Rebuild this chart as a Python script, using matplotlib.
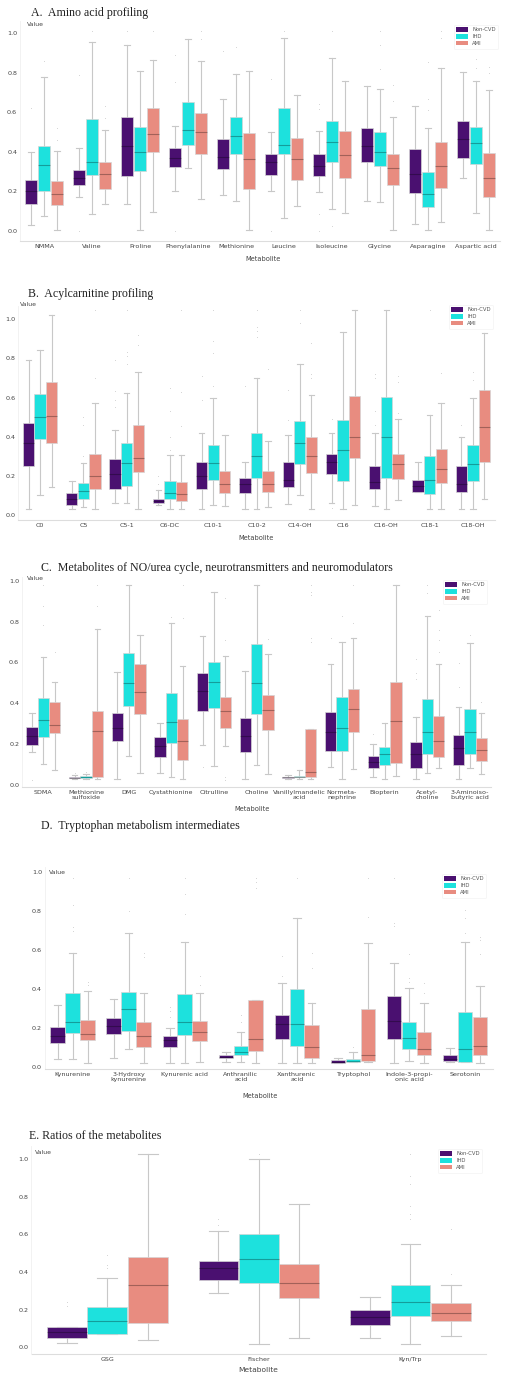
import numpy as np
import matplotlib.pyplot as plt
from matplotlib.patches import Patch

W, H = 506, 1374
groups = ["Non-CVD", "IHD", "AMI"]
colors = ["#4a1070", "#1de1dd", "#e88c80"]

# box stats: (whisker low, q1, median, q3, whisker high)
a_metabolites = ["NMMA", "Valine", "Proline", "Phenylalanine", "Methionine", "Leucine",
                 "Isoleucine", "Glycine", "Asparagine", "Aspartic acid"]
a_noncvd = [(0.03, 0.137, 0.20, 0.258, 0.40), (0.17, 0.233, 0.27, 0.31, 0.42),
            (0.137, 0.278, 0.43, 0.575, 0.94), (0.20, 0.325, 0.37, 0.418, 0.53),
            (0.18, 0.312, 0.373, 0.467, 0.668), (0.20, 0.283, 0.347, 0.39, 0.50),
            (0.195, 0.278, 0.33, 0.388, 0.506), (0.15, 0.351, 0.43, 0.523, 0.735),
            (0.034, 0.19, 0.29, 0.413, 0.63), (0.27, 0.368, 0.464, 0.556, 0.806)]
a_ihd = [(0.076, 0.20, 0.335, 0.43, 0.78), (0.084, 0.283, 0.347, 0.565, 0.958),
         (0.005, 0.305, 0.40, 0.528, 0.81), (0.32, 0.435, 0.51, 0.654, 0.97),
         (0.153, 0.388, 0.48, 0.575, 0.794), (0.064, 0.39, 0.435, 0.624, 0.975),
         (0.11, 0.347, 0.452, 0.558, 0.873), (0.145, 0.33, 0.40, 0.50, 0.72),
         (0.005, 0.12, 0.185, 0.297, 0.523), (0.09, 0.339, 0.443, 0.524, 0.759)]
a_ami = [(0.005, 0.133, 0.185, 0.253, 0.406), (0.137, 0.212, 0.29, 0.35, 0.51),
         (0.094, 0.40, 0.49, 0.62, 0.863), (0.162, 0.39, 0.50, 0.595, 0.86),
         (0.005, 0.21, 0.366, 0.494, 0.81), (0.126, 0.26, 0.366, 0.469, 0.688),
         (0.09, 0.27, 0.383, 0.506, 0.759), (0.005, 0.233, 0.32, 0.388, 0.575),
         (0.047, 0.216, 0.33, 0.452, 0.823), (0.005, 0.174, 0.27, 0.393, 0.713)]
a_noncvd_fl = [[0.62], [0.79, 0.0], [1.01], [0.755, 0.89, 0.0], [0.91], [0.767, 0.0],
               [0.615, 0.64, 0.088, 0.0], [], [], []]
a_ihd_fl = [[0.86], [1.01], [], [], [0.93], [1.01], [0.025, 1.01], [0.82, 0.94, 1.01],
            [0.612, 0.666, 0.857], [0.823, 0.868, 1.01]]
a_ami_fl = [[0.46, 0.52], [0.57, 0.63], [1.01], [0.97, 1.01], [], [], [], [0.655, 0.74],
            [0.975, 1.01], [0.80, 0.83]]

b_metabolites = ["C0", "C5", "C5-1", "C6-DC", "C10-1", "C10-2", "C14-OH", "C16",
                 "C16-OH", "C18-1", "C18-OH"]
b_noncvd = [(0.03, 0.25, 0.37, 0.468, 0.79), (0.03, 0.05, 0.08, 0.114, 0.175),
            (0.06, 0.131, 0.21, 0.286, 0.434), (0.05, 0.06, 0.07, 0.083, 0.128),
            (0.03, 0.135, 0.20, 0.273, 0.42), (0.03, 0.114, 0.16, 0.19, 0.27),
            (0.055, 0.145, 0.18, 0.273, 0.41), (0.06, 0.21, 0.27, 0.31, 0.42),
            (0.046, 0.135, 0.17, 0.25, 0.417), (0.116, 0.116, 0.15, 0.179, 0.27),
            (0.03, 0.12, 0.16, 0.25, 0.40)]
b_ihd = [(0.10, 0.39, 0.50, 0.62, 0.843), (0.043, 0.083, 0.124, 0.162, 0.267),
         (0.06, 0.148, 0.267, 0.37, 0.625), (0.032, 0.08, 0.11, 0.174, 0.306),
         (0.05, 0.179, 0.267, 0.358, 0.596), (0.03, 0.187, 0.30, 0.417, 0.70),
         (0.10, 0.26, 0.366, 0.48, 0.77), (0.03, 0.174, 0.33, 0.486, 0.937),
         (0.03, 0.19, 0.40, 0.605, 1.045), (0.03, 0.105, 0.18, 0.30, 0.51),
         (0.03, 0.174, 0.26, 0.36, 0.60)]
b_ami = [(0.145, 0.37, 0.506, 0.68, 1.02), (0.03, 0.133, 0.20, 0.31, 0.57),
         (0.03, 0.221, 0.293, 0.46, 0.733), (0.032, 0.071, 0.105, 0.17, 0.306),
         (0.046, 0.114, 0.16, 0.225, 0.41), (0.043, 0.12, 0.16, 0.225, 0.38),
         (0.03, 0.213, 0.30, 0.40, 0.613), (0.05, 0.293, 0.40, 0.608, 1.045),
         (0.077, 0.182, 0.26, 0.31, 0.49), (0.03, 0.162, 0.233, 0.335, 0.57),
         (0.08, 0.273, 0.45, 0.64, 0.93)]
b_noncvd_fl = [[], [], [0.55, 0.59, 0.635, 0.79], [0.16, 0.2], [0.59, 0.71], [0.66],
               [0.486, 0.64], [0.49, 0.034], [0.46, 0.53, 0.70, 0.72], [], [0.46]]
b_ihd_fl = [[], [0.30, 0.46, 0.50], [0.77, 0.81, 0.835, 1.045], [0.33, 0.40, 0.53, 0.65],
            [0.66, 0.83, 0.89, 1.045], [0.91, 0.94, 0.96, 1.045], [0.98, 1.045], [], [],
            [1.045], [0.69, 0.73]]
b_ami_fl = [[], [0.70, 1.045], [0.87, 0.92], [0.456, 0.627, 1.045], [], [0.745],
            [0.70, 0.72, 0.88], [], [0.52, 0.68, 0.71], [0.727], []]

c_metabolites = ["SDMA", "Methionine\nsulfoxide", "DMG", "Cystathionine", "Citrulline",
                 "Choline", "Vanillylmandelic\nacid", "Normeta-\nnephrine", "Biopterin",
                 "Acetyl-\ncholine", "3-Aminoiso-\nbutyric acid"]
c_noncvd = [(0.163, 0.196, 0.24, 0.285, 0.354), (0.03, 0.033, 0.036, 0.04, 0.05),
            (0.028, 0.215, 0.28, 0.354, 0.555), (0.06, 0.135, 0.19, 0.237, 0.302),
            (0.196, 0.364, 0.46, 0.546, 0.73), (0.028, 0.16, 0.24, 0.33, 0.558),
            (0.03, 0.034, 0.037, 0.04, 0.05), (0.09, 0.166, 0.26, 0.356, 0.592),
            (0.04, 0.085, 0.11, 0.144, 0.20), (0.028, 0.082, 0.15, 0.212, 0.334),
            (0.028, 0.10, 0.18, 0.245, 0.383)]
c_ihd = [(0.103, 0.237, 0.32, 0.424, 0.628), (0.03, 0.032, 0.038, 0.044, 0.055),
         (0.142, 0.388, 0.50, 0.644, 0.98), (0.037, 0.204, 0.31, 0.449, 0.795),
         (0.093, 0.375, 0.506, 0.60, 0.943), (0.10, 0.346, 0.50, 0.688, 0.98),
         (0.03, 0.037, 0.04, 0.045, 0.073), (0.028, 0.166, 0.28, 0.432, 0.70),
         (0.028, 0.098, 0.15, 0.188, 0.302), (0.057, 0.15, 0.258, 0.42, 0.827),
         (0.082, 0.15, 0.258, 0.37, 0.697)]
c_ami = [(0.073, 0.256, 0.294, 0.405, 0.502), (0.03, 0.037, 0.266, 0.364, 0.762),
         (0.057, 0.347, 0.457, 0.592, 0.734), (0.028, 0.122, 0.215, 0.321, 0.582),
         (0.19, 0.28, 0.36, 0.429, 0.63), (0.052, 0.269, 0.367, 0.44, 0.64),
         (0.03, 0.037, 0.062, 0.272, 0.272), (0.077, 0.261, 0.37, 0.468, 0.718),
         (0.044, 0.109, 0.313, 0.504, 0.98), (0.082, 0.135, 0.217, 0.34, 0.592),
         (0.052, 0.117, 0.17, 0.232, 0.35)]
c_noncvd_fl = [[0.025], [0.057], [], [], [0.09], [], [], [0.718], [0.25],
               [0.52, 0.55, 0.615], [0.48, 0.595]]
c_ihd_fl = [[0.783, 0.876, 0.98], [0.065], [], [0.82], [], [], [], [0.827], [],
            [0.94, 0.98], [0.734]]
c_ami_fl = [[0.65], [0.876, 0.98], [], [0.815, 0.98], [0.71, 0.913, 0.04, 0.025], [0.716],
            [0.70, 0.72, 0.93, 0.946, 0.98], [0.795, 0.98], [], [0.65, 0.71, 0.76, 0.856],
            [0.405]]

d_metabolites = ["Kynurenine", "3-Hydroxy\nkynurenine", "Kynurenic acid", "Anthranilic\nacid",
                 "Xanthurenic\nacid", "Tryptophol", "Indole-3-propi-\nonic acid", "Serotonin"]
d_noncvd = [(0.044, 0.123, 0.16, 0.205, 0.32), (0.05, 0.169, 0.21, 0.255, 0.35),
            (0.02, 0.106, 0.14, 0.161, 0.203), (0.026, 0.046, 0.055, 0.063, 0.08),
            (0.02, 0.144, 0.22, 0.268, 0.43), (0.02, 0.022, 0.03, 0.038, 0.05),
            (0.02, 0.145, 0.24, 0.366, 0.537), (0.026, 0.034, 0.045, 0.062, 0.097)]
d_ihd = [(0.044, 0.178, 0.234, 0.383, 0.585), (0.096, 0.188, 0.30, 0.385, 0.69),
         (0.02, 0.166, 0.234, 0.374, 0.644), (0.027, 0.062, 0.08, 0.111, 0.18),
         (0.02, 0.111, 0.222, 0.40, 0.767), (0.026, 0.026, 0.035, 0.043, 0.08),
         (0.032, 0.092, 0.15, 0.234, 0.409), (0.03, 0.03, 0.092, 0.282, 0.641)]
d_ami = [(0.02, 0.14, 0.173, 0.243, 0.393), (0.02, 0.106, 0.162, 0.234, 0.38),
         (0.026, 0.137, 0.183, 0.238, 0.38), (0.02, 0.084, 0.147, 0.345, 0.345),
         (0.02, 0.05, 0.103, 0.217, 0.33), (0.026, 0.034, 0.063, 0.297, 0.64),
         (0.02, 0.062, 0.092, 0.18, 0.33), (0.02, 0.062, 0.111, 0.256, 0.419)]
d_noncvd_fl = [[], [], [0.26, 0.29, 0.31], [], [0.47, 0.57], [], [0.725, 0.74, 0.97], []]
d_ihd_fl = [[0.70, 0.72, 0.832, 0.97], [0.80, 0.97], [0.786, 0.89, 0.97], [0.234, 0.27],
            [0.97], [0.106], [0.44, 0.456, 0.58], [0.687, 0.764, 0.807]]
d_ami_fl = [[0.42, 0.44], [0.565, 0.585], [0.42, 0.47], [0.92, 0.95, 0.97], [0.51, 0.588],
            [0.77, 0.97], [0.38, 0.43], [0.58, 0.653, 0.67]]

e_metabolites = ["GSG", "Fischer", "Kyn/Trp"]
e_noncvd = [(0.025, 0.05, 0.08, 0.11, 0.11), (0.29, 0.36, 0.42, 0.46, 0.62),
            (0.05, 0.12, 0.16, 0.20, 0.27)]
e_ihd = [(0.07, 0.07, 0.14, 0.215, 0.37), (0.02, 0.34, 0.47, 0.60, 1.0),
         (0.02, 0.165, 0.24, 0.33, 0.55)]
e_ami = [(0.04, 0.13, 0.33, 0.48, 1.03), (0.05, 0.26, 0.34, 0.445, 0.76),
         (0.06, 0.14, 0.18, 0.235, 0.33)]
e_noncvd_fl = [[0.22, 0.24], [0.65, 0.68], []]
e_ihd_fl = [[0.42, 0.44, 0.49], [1.03], [0.68, 0.71, 0.75, 0.87, 0.91, 1.03]]
e_ami_fl = [[], [], [0.39, 0.63]]


fig = plt.figure(figsize=(W / 100, H / 100), dpi=100)
fig.patch.set_facecolor("white")


def px_text(x, y, s, **kw):
    fig.text(x / W, 1 - y / H, s, **kw)


def panel(left, right, top, bottom, ylim, cats, stats, fliers, title, title_xy,
          value_xy, xlabel_xy, leg_xy, tick_fs=4.6, xlab_fs=4.8):
    ax = fig.add_axes([left / W, 1 - bottom / H, (right - left) / W, (bottom - top) / H])
    n = len(cats)
    bw = 0.8 / 3
    for j in range(3):
        bstats = []
        for i, (lo, q1, med, q3, hi) in enumerate(stats[j]):
            bstats.append(dict(whislo=lo, q1=q1, med=med, q3=q3, whishi=hi,
                               fliers=fliers[j][i]))
        pos = np.arange(n) + (j - 1) * bw
        bp = ax.bxp(bstats, positions=pos, widths=bw * 0.98, patch_artist=True,
                    showfliers=True, manage_ticks=False,
                    boxprops=dict(facecolor=colors[j], edgecolor="#d6d6d6", linewidth=0.5),
                    medianprops=dict(color=(0, 0, 0, 0.3), linewidth=0.8),
                    whiskerprops=dict(color="#c8c8c8", linewidth=0.8),
                    capprops=dict(color="#c8c8c8", linewidth=0.8),
                    flierprops=dict(marker=".", markersize=1.2, markerfacecolor="#b5b5b5",
                                    markeredgecolor="none"))
        for b in bp["boxes"]:
            b.set_zorder(3)
        for m in bp["medians"]:
            m.set_zorder(4)
    ax.set_xlim(-0.5, n - 0.5)
    ax.set_ylim(*ylim)
    ax.set_xticks(range(n))
    ax.set_xticklabels(cats, fontsize=tick_fs, color="#444444", linespacing=1.0)
    ax.set_yticks([0, 0.2, 0.4, 0.6, 0.8, 1.0])
    ax.set_yticklabels(["0.0", "0.2", "0.4", "0.6", "0.8", "1.0"], fontsize=tick_fs,
                       color="#444444")
    ax.tick_params(length=0, pad=2)
    for s in ["top", "right"]:
        ax.spines[s].set_visible(False)
    ax.spines["bottom"].set_color("#dddddd")
    ax.spines["left"].set_color("#f0f0f0")
    ax.spines["bottom"].set_linewidth(0.8)
    ax.spines["left"].set_linewidth(0.6)
    handles = [Patch(facecolor=c, edgecolor="none", label=g) for c, g in zip(colors, groups)]
    leg = ax.legend(handles=handles, loc="upper right",
                    bbox_to_anchor=(leg_xy[0] / W, 1 - leg_xy[1] / H),
                    bbox_transform=fig.transFigure, fontsize=3.8, frameon=True,
                    handlelength=2.2, handleheight=0.9, labelspacing=0.35,
                    borderpad=0.5, handletextpad=0.8, labelcolor="#555555")
    leg.get_frame().set_edgecolor("#f0f0f0")
    leg.get_frame().set_linewidth(0.5)
    px_text(title_xy[0], title_xy[1], title, family="Liberation Serif", fontsize=8.6,
            color="#222222", va="center", ha="left")
    px_text(value_xy[0], value_xy[1], "Value", fontsize=4.4, color="#444444",
            va="center", ha="left")
    px_text(xlabel_xy[0], xlabel_xy[1], "Metabolite", fontsize=xlab_fs, color="#444444",
            va="center", ha="center")
    return ax


panel(20, 500, 21.4, 240.9, (-0.05, 1.06), a_metabolites,
      [a_noncvd, a_ihd, a_ami], [a_noncvd_fl, a_ihd_fl, a_ami_fl],
      "A.  Amino acid profiling", (31, 13), (27, 25), (263, 259), (501, 22))

panel(18.4, 494.6, 305.6, 520.1, (-0.026, 1.07), b_metabolites,
      [b_noncvd, b_ihd, b_ami], [b_noncvd_fl, b_ihd_fl, b_ami_fl],
      "B.  Acylcarnitine profiling", (28, 294), (20, 304), (256, 538), (496, 302))

panel(22, 491.3, 576.6, 787, (-0.01, 1.02), c_metabolites,
      [c_noncvd, c_ihd, c_ami], [c_noncvd_fl, c_ihd_fl, c_ami_fl],
      "C.  Metabolites of NO/urea cycle, neurotransmitters and neuromodulators",
      (41, 568), (27, 579), (252, 809), (490, 577))

panel(44.7, 493, 866.5, 1069.3, (-0.01, 1.03), d_metabolites,
      [d_noncvd, d_ihd, d_ami], [d_noncvd_fl, d_ihd_fl, d_ami_fl],
      "D.  Tryptophan metabolism intermediates", (41, 826), (49, 873), (260, 1096),
      (489, 871))

panel(31.5, 486.2, 1146.1, 1353.9, (-0.035, 1.07), e_metabolites,
      [e_noncvd, e_ihd, e_ami], [e_noncvd_fl, e_ihd_fl, e_ami_fl],
      "E. Ratios of the metabolites", (29, 1136), (35, 1152), (258, 1370), (485, 1146),
      xlab_fs=5.4)

fig.savefig("out.png", dpi=100, facecolor="white")
